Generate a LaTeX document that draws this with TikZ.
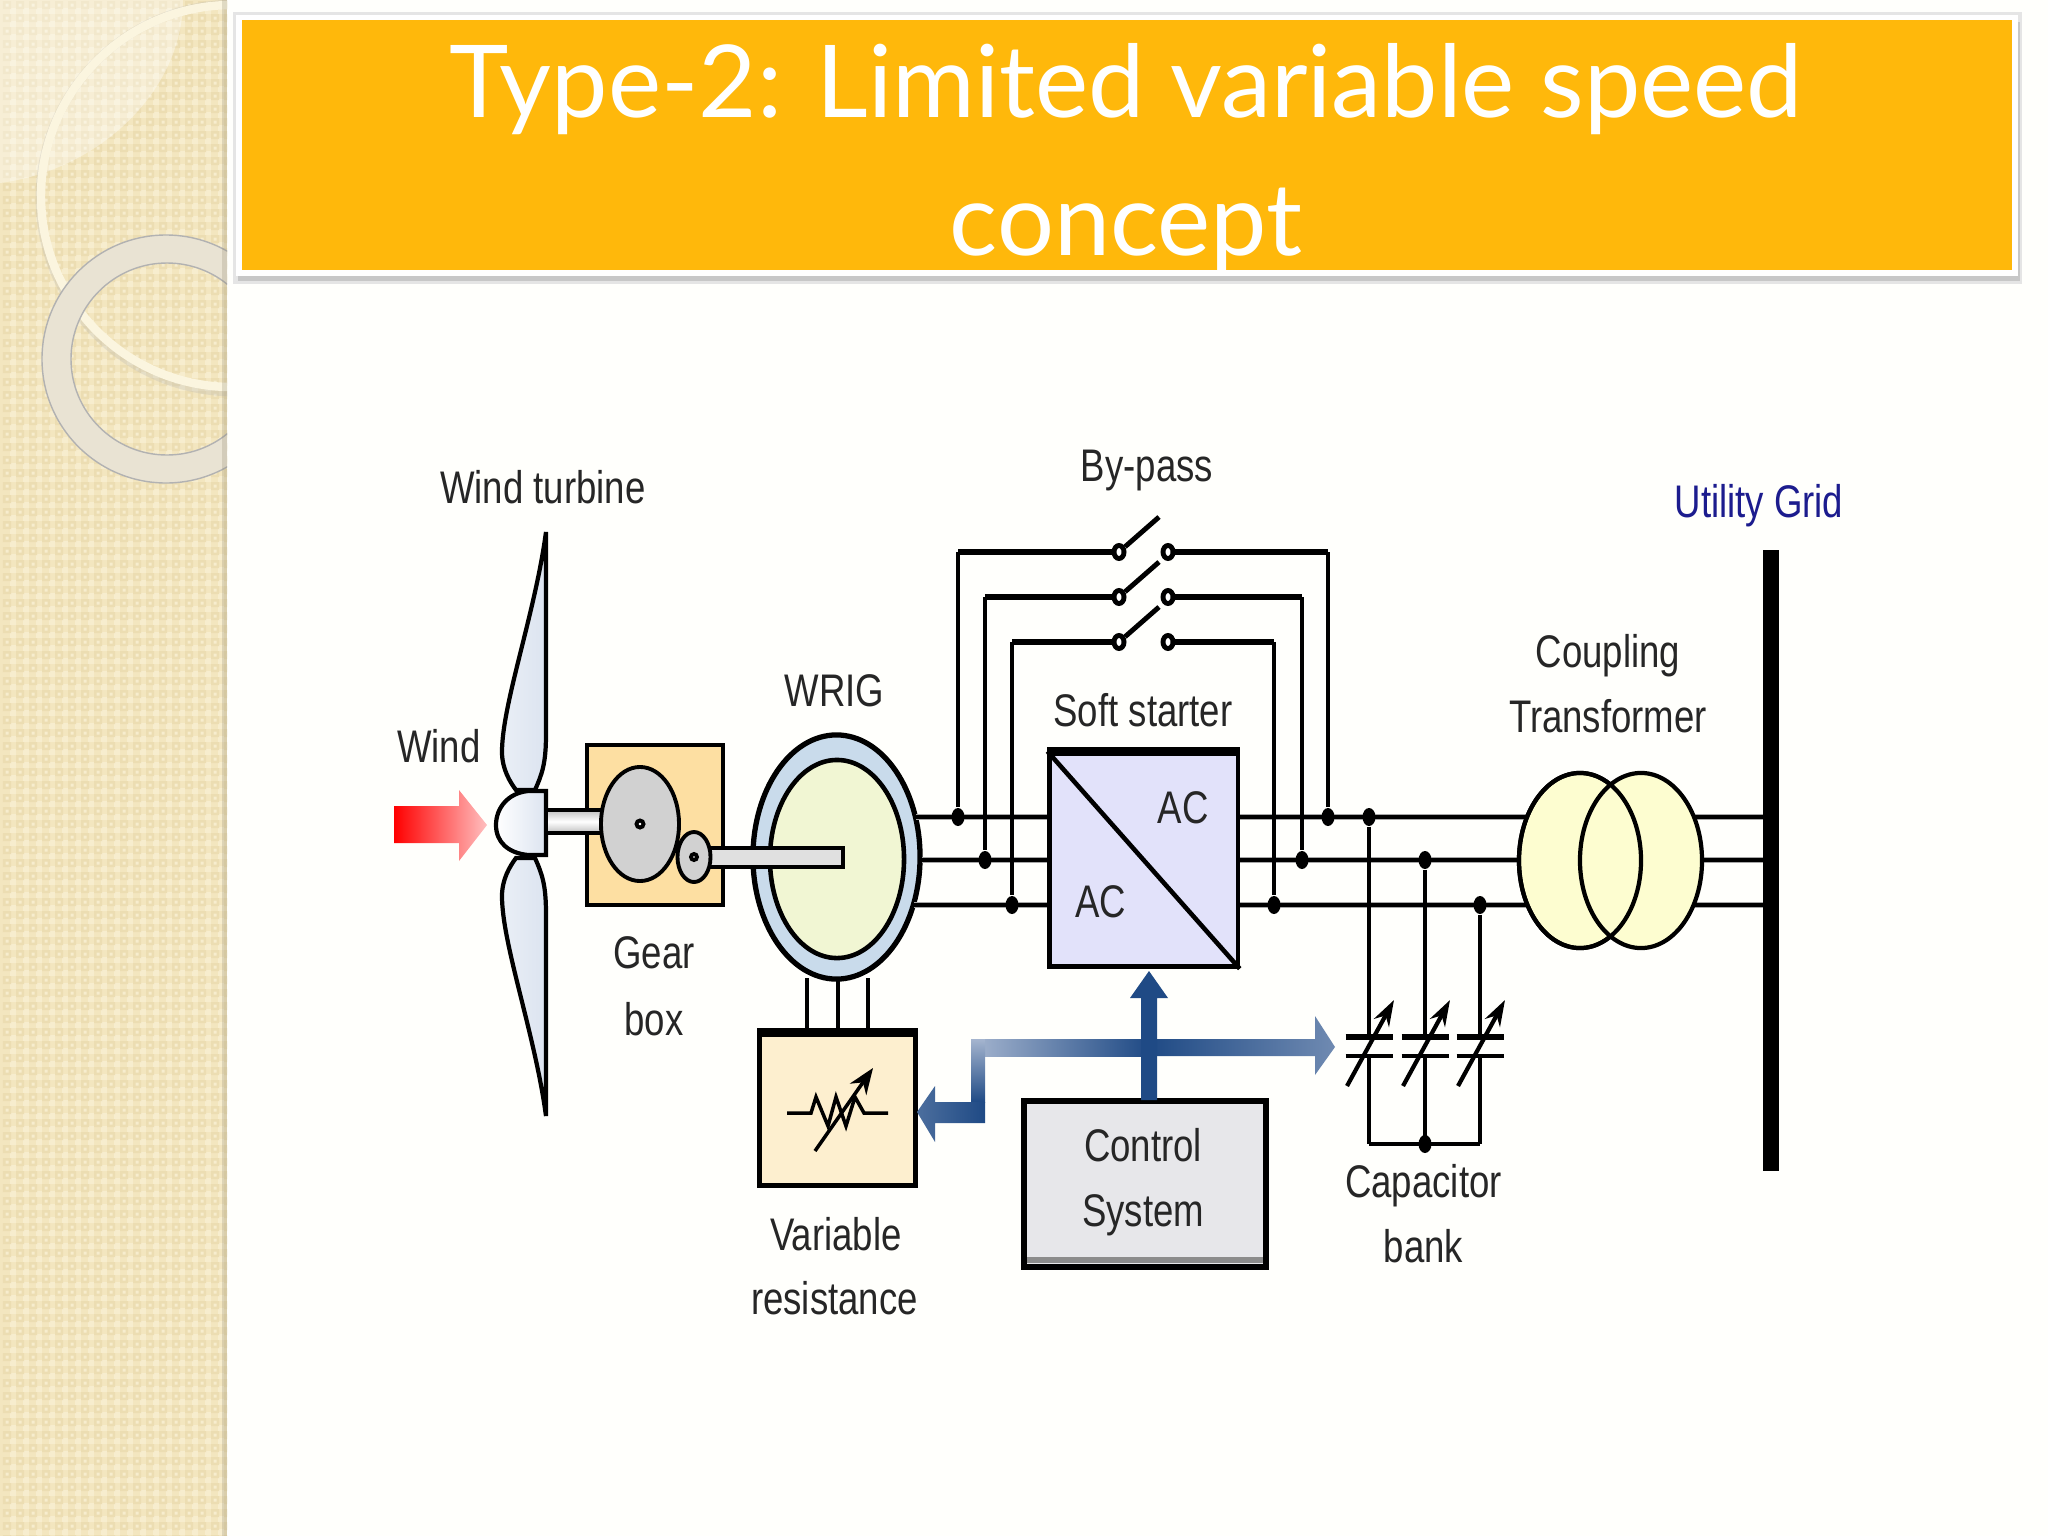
\documentclass[tikz,border=0pt]{standalone}
\usepackage{fontspec}
\setmainfont{Liberation Sans}
\newfontfamily\titlefont{Lato}
\newfontfamily\narrowfont[FakeStretch=0.8]{Liberation Sans}
\usetikzlibrary{calc}
\usetikzlibrary{arrows.meta}
\usetikzlibrary{shapes.geometric}
\usetikzlibrary{shadings}
\definecolor{panelc}{HTML}{F3E6BF}
\definecolor{panelk}{HTML}{ECDDB2}
\definecolor{panell}{HTML}{F7EDCE}
\definecolor{orangec}{HTML}{FFB80B}
\definecolor{ringc}{HTML}{FBF5DF}
\definecolor{greyring}{HTML}{E9E3D3}
\definecolor{gearc}{HTML}{FDDFA2}
\definecolor{resc}{HTML}{FDEFCF}
\definecolor{statorc}{HTML}{C9DBEB}
\definecolor{rotorc}{HTML}{F1F6D3}
\definecolor{softc}{HTML}{E2E2FA}
\definecolor{ctrlc}{HTML}{E7E7EA}
\definecolor{trafoc}{HTML}{FDFDD0}
\definecolor{gridc}{HTML}{1C1C8E}
\definecolor{busc}{HTML}{1F4A85}
\definecolor{busl}{HTML}{A5B5CF}
\definecolor{bladec}{HTML}{DCE4F0}
\tikzset{
 lab/.style={font=\narrowfont\fontsize{13}{15}\selectfont, text=black!85, inner sep=0},
 wire/.style={black, line width=1pt},
 phase/.style={black, line width=1.2pt, preaction={draw=black!35, line width=1.9pt}},
 heavy/.style={black, line width=1.9pt},
 jdot/.style={ellipse, fill=black, inner sep=0, minimum width=.13cm, minimum height=.18cm},
 cont/.style={ellipse, draw=black, fill=white, line width=1.4pt, inner sep=0, minimum width=.1cm, minimum height=.13cm},
 ring/.style={ellipse, draw=black, inner sep=0},
 boxn/.style={rectangle, draw=black, inner sep=0},
}
\begin{document}
\begin{tikzpicture}[x=.01cm,y=-.01cm]
\useasboundingbox (0,0) rectangle (2048,1536);
\fill[white!99!yellow] (0,0) rectangle (2048,1536);
% left panel
\begin{scope}
\clip (0,0) rectangle (227,1536);
\fill[panelc] (0,0) rectangle (227,1536);
\fill[panell] foreach \i in {0,...,17} { foreach \j in {0,...,118} {
 (\i*13+10,\j*13+8) rectangle ++(6,6) } };
\fill[panelk] foreach \i in {0,...,17} { foreach \j in {0,...,118} {
 (\i*13+3,\j*13+1) rectangle ++(8,8) } };
\fill[panell] foreach \i in {0,...,17} { foreach \j in {0,...,118} {
 (\i*13+5.5,\j*13+3.5) rectangle ++(3,3) } };
\fill[white, opacity=.35] (0,0) -- (183,0) .. controls (183,90) and (100,170) .. (0,183) -- cycle;
\draw[black!30, line width=2.5pt, opacity=.25] (234,198) circle (194);
\draw[ringc, line width=2.4pt] (232,196) circle (191);
\fill[greyring, even odd rule, draw=black!30, line width=.4pt] (166,359) circle (124) (167,359) circle (96);
\fill[black!40!panelc, opacity=.25] (222,0) rectangle (227,1536);
\end{scope}
% title
\fill[black!10] (233,12) rectangle (2022,284);
\fill[black!22] (238,22) rectangle (2020,281);
\fill[white] (236,15) rectangle (2018,276);
\fill[orangec] (242,20) rectangle (2012,270);
\node[text=white, font=\titlefont\fontsize{28.6}{39.2}\selectfont, align=center, inner sep=0] (title) at (1126,158)
 {Type-2: Limited variable speed\\concept};
% wind and blades
\shade[left color=red, right color=red!25] (394,806) -- (459,806) -- (459,790) -- (487,825) -- (459,861) -- (459,843) -- (394,843) -- cycle;
\node[lab] (windl) at (439,746) {Wind};
\node[lab] (turbl) at (543,487) {Wind turbine};
\foreach \s in {1,-1} {
 \draw[black, line width=1.2pt, left color=bladec!60, right color=bladec]
 (546,{824-\s*292}) .. controls (535,{824-\s*210}) and (502,{824-\s*120}) .. (502,{824-\s*72})
 .. controls (502,{824-\s*55}) and (510,{824-\s*42}) .. (516,{824-\s*34})
 -- (535,{824-\s*34}) .. controls (542,{824-\s*50}) and (546,{824-\s*60}) .. (546,{824-\s*90}) -- cycle;
}
\draw[black, line width=1.2pt, left color=white, right color=bladec] (546,791) -- (528,791) .. controls (508,793) and (496,808) .. (496,825) .. controls (496,842) and (508,853) .. (528,855) -- (546,855) -- cycle;
% gear box
\node[boxn, fill=gearc, line width=.9pt, minimum width=1.36cm, minimum height=1.6cm] (gear) at (655,825) {};
\node[lab] (gearl) at (654,953) {Gear};
\node[lab] (boxl) at (654,1019) {box};
\draw[black, line width=1.1pt, top color=black!25, bottom color=black!25, middle color=white] (546,810) rectangle (604,833);
\node[ring, fill=black!18, line width=1.1pt, minimum width=.78cm, minimum height=1.14cm] (biggear) at (640,824) {};
\node[circle, draw=black, fill=white, line width=1.1pt, inner sep=0, minimum size=.07cm] (bighub) at (640,824) {};
% generator
\node[ring, fill=statorc, line width=1.5pt, minimum width=1.67cm, minimum height=2.44cm] (stator) at (836.5,857) {};
\node[ring, fill=rotorc, line width=1.3pt, minimum width=1.34cm, minimum height=1.98cm] (rotor) at (837,859) {};
\node[lab] (wrigl) at (834.5,691) {WRIG};
\draw[black, line width=.9pt, fill=black!12] (705,848) rectangle (843,867);
\node[ring, fill=black!18, line width=1.1pt, minimum width=.33cm, minimum height=.5cm] (smallgear) at (694,857) {};
\node[circle, draw=black, fill=white, line width=1.1pt, inner sep=0, minimum size=.06cm] (smallhub) at (694,857) {};
% variable resistance
\node[boxn, fill=resc, line width=1.2pt, minimum width=1.56cm, minimum height=1.51cm] (res) at (837.5,1110) {};
\draw[black, line width=2.2pt] (res.north west) -- (res.north east);
\foreach \x in {807,838,868} {
 \coordinate (leg\x) at (\x,1034);
 \draw[black, line width=1.3pt] (leg\x) -- (\x,978);
}
\coordinate (rl) at (787,1113);
\coordinate (rr) at (888,1113);
\draw[black, line width=1pt] (rl) -- (811,1113) -- (816,1097) -- (828,1126) -- (836,1097) -- (846,1126) -- (855,1097) -- (864,1113) -- (rr);
\coordinate (ra) at (815,1151);
\coordinate (rb) at (873,1068);
\draw[black, line width=1pt, -{Stealth[length=.26cm,width=.2cm]}] (ra) -- (rb);
\node[lab] (varl) at (836,1234) {Variable};
\node[lab] (resl) at (834.5,1298) {resistance};
% three phases
\foreach \n/\y/\xg/\xl/\xr/\xc in {a/817/916/958/1328/1369, b/860/922/985/1302/1425, c/905/914/1012/1274/1480} {
 \coordinate (gen\n) at (\xg,\y);
 \coordinate (sl\n) at (1050,\y);
 \coordinate (sr\n) at (1237,\y);
 \coordinate (tr\n) at (1580,\y);
 \coordinate (tq\n) at (1650,\y);
 \coordinate (bu\n) at (1764,\y);
 \draw[phase] (gen\n) -- (sl\n);
 \draw[phase] (sr\n) -- (tr\n);
 \draw[phase] (tq\n) -- (bu\n);
 \node[jdot] (dl\n) at (\xl,\y) {};
 \node[jdot] (dr\n) at (\xr,\y) {};
 \node[jdot] (dc\n) at (\xc,\y) {};
}
% soft starter
\node[boxn, fill=softc, line width=1.2pt, minimum width=1.88cm, minimum height=2.13cm] (soft) at (1143.6,860) {};
\draw[black, line width=2.2pt] (soft.north west) -- (soft.north east);
\draw[black, line width=1.3pt] (soft.north west) -- (soft.south east);
\node[lab] (acup) at (1183,808) {AC};
\node[lab] (aclo) at (1100.7,902) {AC};
\node[lab] (softl) at (1143,710) {Soft starter};
\node[lab] (bypl) at (1147,471) {By-pass};
% transformer
\node[ring, fill=trafoc, line width=1.2pt, minimum width=1.22cm, minimum height=1.75cm] (tra) at (1580,860.5) {};
\node[ring, fill=trafoc, line width=1.2pt, minimum width=1.22cm, minimum height=1.75cm] (trb) at (1641,860.5) {};
\node[ring, line width=1.2pt, minimum width=1.22cm, minimum height=1.75cm] (trc) at (tra) {};
\node[lab] (coupl) at (1608,656) {Coupling};
\node[lab] (tranl) at (1608,716) {Transformer};
% grid
\node[rectangle, fill=black, inner sep=0, minimum width=.16cm, minimum height=6.2cm] (bus) at (1771,860.5) {};
\node[lab, text=gridc] (gridl) at (1759,506) {Utility Grid};
% by-pass
\foreach \n/\y/\xl/\xr in {a/552/958/1328, b/597/985/1302, c/642/1012/1274} {
 \node[cont] (cl\n) at (1119,\y) {};
 \node[cont] (cr\n) at (1168,\y) {};
 \coordinate (bl\n) at (\xl,\y);
 \coordinate (br\n) at (\xr,\y);
 \draw[heavy] (cl\n) -- (bl\n);
 \draw[heavy] (cr\n) -- (br\n);
 \draw[wire] (bl\n) -- (dl\n);
 \draw[wire] (br\n) -- (dr\n);
 \coordinate (sw\n) at (1159,\y-35);
 \draw[black, line width=1.4pt] (cl\n) -- (sw\n);
}
% capacitors
\node[jdot] (dbot) at (1425,1144) {};
\foreach \n/\x in {a/1369, b/1425, c/1480} {
 \coordinate (cb\n) at (\x,1144);
 \draw[wire] (dc\n) -- (\x,1037);
 \draw[wire] (\x,1056) -- (cb\n);
 \draw[black, line width=1.8pt] (\x-23.5,1037) -- (\x+23.5,1037);
 \draw[black, line width=1.3pt] (\x-23.5,1056) -- (\x+23.5,1056);
 \draw[black, line width=1.2pt, -{Stealth[length=.26cm,width=.17cm]}] (\x-22,1086) -- (\x+25,1000);
}
\draw[wire] (cba) -- (cbc);
\node[lab] (capl) at (1423.5,1186) {Capacitor};
\node[lab] (bankl) at (1423.5,1246) {bank};
% control system
\node[boxn, fill=ctrlc, line width=1.6pt, minimum width=2.42cm, minimum height=1.66cm] (ctrl) at (1145,1184) {};
\fill[black!45] (1027,1257) rectangle (1263,1263);
\node[lab] (ctrla) at (1143,1145) {Control};
\node[lab] (ctrlb) at (1143,1215) {System};
\shade[left color=busl, right color=busc] (971,1039) rectangle (1149,1056);
\shade[left color=busc, right color=busl!60!busc] (1149,1039) -- (1315,1039) -- (1315,1016) -- (1335,1047) -- (1315,1075) -- (1315,1056) -- (1149,1056) -- cycle;
\shade[top color=busl, bottom color=busc] (971,1039) rectangle (985,1102);
\shade[left color=busc!80!white, right color=busc] (985,1102) -- (985,1123) -- (935,1123) -- (935,1142) -- (917,1112) -- (935,1086) -- (935,1102) -- cycle;
\fill[busc] (1141,1100) -- (1141,998) -- (1130,998) -- (1149,971) -- (1168,998) -- (1157,998) -- (1157,1100) -- cycle;
\end{tikzpicture}
\end{document}
